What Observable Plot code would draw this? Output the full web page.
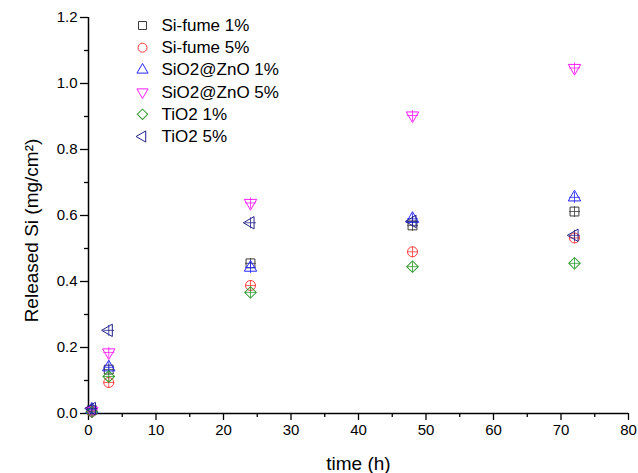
<!DOCTYPE html>
<html>
<head>
<meta charset="utf-8">
<script src="https://cdn.jsdelivr.net/npm/d3@7"></script>
<script src="https://cdn.jsdelivr.net/npm/@observablehq/plot@0.6"></script>
<style>
  html, body { margin: 0; padding: 0; background: #fff; }
  #chart svg { display: block; }
</style>
</head>
<body>
<div id="chart"></div>
<script>
// ---- data ----
const times = [0.5, 3, 24, 48, 72];
const seriesNames = ["Si-fume 1%", "Si-fume 5%", "SiO2@ZnO 1%", "SiO2@ZnO 5%", "TiO2 1%", "TiO2 5%"];
const siFume1  = [0.010, 0.133, 0.455, 0.570, 0.612];
const siFume5  = [0.006, 0.094, 0.388, 0.490, 0.532];
const sio2zno1 = [0.012, 0.140, 0.442, 0.590, 0.655];
const sio2zno5 = [0.008, 0.185, 0.638, 0.903, 1.047];
const tio2_1   = [0.005, 0.112, 0.367, 0.445, 0.455];
const tio2_5   = [0.015, 0.252, 0.578, 0.582, 0.540];
const xTicks = [0, 10, 20, 30, 40, 50, 60, 70, 80];
const xMinor = [5, 15, 25, 35, 45, 55, 65, 75];
const yTicks = [0, 0.2, 0.4, 0.6, 0.8, 1.0, 1.2];
const yMinor = [0.1, 0.3, 0.5, 0.7, 0.9, 1.1];

// ---- styling ----
const allValues = [siFume1, siFume5, sio2zno1, sio2zno5, tio2_1, tio2_5];
const colors = ["#3a3a3a", "#ff3838", "#2626ff", "#ff1aff", "#2f9a2f", "#22228c"];
const symbols = [d3.symbolSquare, d3.symbolCircle, d3.symbolTriangle, d3.symbolTriangle, d3.symbolSquare, d3.symbolTriangle];
const rotations = [0, 0, 0, 180, 45, -90];
const radii = [5.0, 5.0, 4.6, 4.6, 4.6, 4.6];

const font = "Arial, 'Liberation Sans', sans-serif";

const marks = [];
allValues.forEach((vals, i) => {
  const data = times.map((t, j) => ({t, v: vals[j]}));
  marks.push(Plot.dot(data, {
    x: "t", y: "v", symbol: symbols[i], rotate: rotations[i], r: radii[i],
    stroke: colors[i], fill: "none", strokeWidth: 1
  }));
  marks.push(Plot.dot(data, {
    x: "t", y: "v", symbol: "plus", r: 3.6,
    stroke: colors[i], fill: "none", strokeWidth: 0.8
  }));
  // legend entry
  marks.push(Plot.dot([seriesNames[i]], {
    frameAnchor: "top-left", dx: 54, dy: 8 + 22.2 * i,
    symbol: symbols[i], rotate: rotations[i], r: radii[i] * 0.9,
    stroke: colors[i], fill: "none", strokeWidth: 1
  }));
  marks.push(Plot.text([seriesNames[i]], {
    frameAnchor: "top-left", dx: 73, dy: 8 + 22.2 * i,
    text: d => d, textAnchor: "start", lineAnchor: "middle",
    fontSize: 17, fill: "#000"
  }));
});

const chart = Plot.plot({
  width: 638,
  height: 473,
  marginLeft: 88,
  marginRight: 10,
  marginTop: 17,
  marginBottom: 60,
  style: { fontFamily: font, background: "#fff", color: "#000" },
  x: { domain: [0, 80] },
  y: { domain: [0, 1.2] },
  marks: [
    Plot.axisX({ ticks: xTicks, tickSize: 7, tickPadding: 4, fontSize: 15, tickFormat: d => String(d), label: null, strokeWidth: 1.3 }),
    Plot.axisX({ ticks: xMinor, tickSize: 4, tickFormat: null, text: null, label: null, strokeWidth: 1.3 }),
    Plot.axisY({ ticks: yTicks, tickSize: 8, tickPadding: 3, fontSize: 15, tickFormat: d3.format(".1f"), label: null, strokeWidth: 1.3 }),
    Plot.axisY({ ticks: yMinor, tickSize: 4, tickFormat: null, text: null, label: null, strokeWidth: 1.3 }),
    Plot.ruleY([0], { stroke: "#000", strokeWidth: 1.5 }),
    Plot.ruleX([0], { stroke: "#000", strokeWidth: 1.5 }),
    Plot.text(["time (h)"], { frameAnchor: "bottom", dy: 56, text: d => d, fontSize: 19, lineAnchor: "bottom" }),
    Plot.text(["Released Si (mg/cm²)"], { frameAnchor: "left", dx: -51, dy: 15, rotate: -90, textAnchor: "middle", text: d => d, fontSize: 19, lineAnchor: "bottom" }),
    ...marks
  ]
});

document.getElementById("chart").appendChild(chart);
</script>
</body>
</html>
